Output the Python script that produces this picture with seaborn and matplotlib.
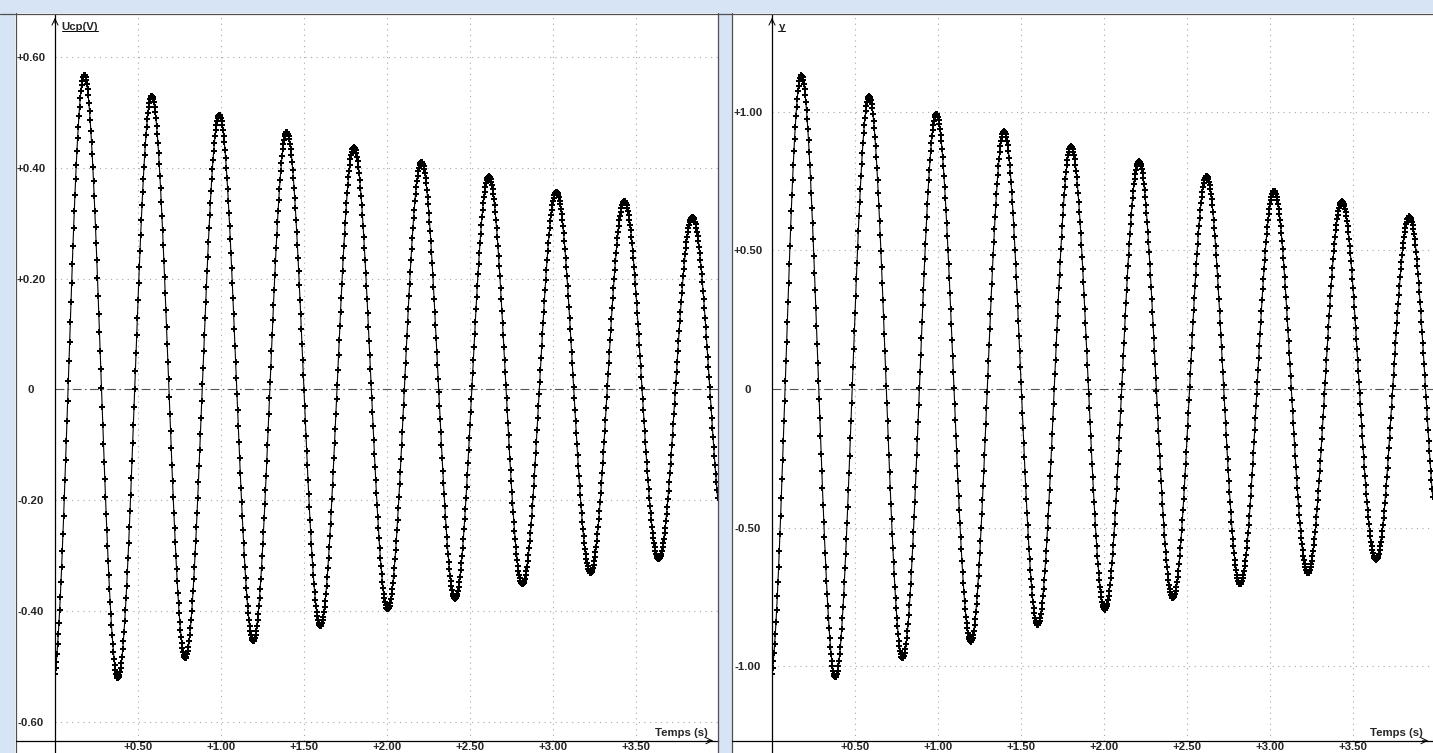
import numpy as np
import pandas as pd
import matplotlib.pyplot as plt
from matplotlib.lines import Line2D
from matplotlib.patches import Rectangle
import seaborn as sns

ucp_t_ext = [-0.015, 0.176, 0.379, 0.582, 0.785, 0.990, 1.194, 1.396, 1.598, 1.801, 2.004,
             2.207, 2.410, 2.613, 2.816, 3.020, 3.225, 3.430, 3.636, 3.840, 4.045]
ucp_v_ext = [-0.530, 0.568, -0.521, 0.530, -0.485, 0.496, -0.454, 0.465, -0.427, 0.438, -0.397,
             0.411, -0.378, 0.385, -0.352, 0.357, -0.331, 0.340, -0.306, 0.312, -0.290]
y_t_ext = [-0.015, 0.176, 0.382, 0.585, 0.787, 0.990, 1.197, 1.398, 1.600, 1.802, 2.005,
           2.210, 2.415, 2.617, 2.820, 3.024, 3.228, 3.433, 3.638, 3.840, 4.030]
y_v_ext = [-1.060, 1.132, -1.041, 1.056, -0.972, 0.991, -0.912, 0.930, -0.852, 0.876, -0.796,
           0.822, -0.754, 0.768, -0.705, 0.714, -0.664, 0.677, -0.618, 0.623, -0.585]

sample_step = 0.004  # acquisition period (s)

time_ticks = [0.5, 1.0, 1.5, 2.0, 2.5, 3.0, 3.5]
time_labels = ['+0.50', '+1.00', '+1.50', '+2.00', '+2.50', '+3.00', '+3.50']
ucp_ticks = [0.6, 0.4, 0.2, 0.0, -0.2, -0.4, -0.6]
ucp_labels = ['+0.60', '+0.40', '+0.20', '0', '-0.20', '-0.40', '-0.60']
y_ticks = [1.0, 0.5, 0.0, -0.5, -1.0]
y_labels = ['+1.00', '+0.50', '0', '-0.50', '-1.00']


def sampled(t_ext, v_ext, t):
    # half cosine between successive extrema, evaluated at the sample instants
    t_ext = np.asarray(t_ext)
    v_ext = np.asarray(v_ext)
    i = np.clip(np.searchsorted(t_ext, t, side='right') - 1, 0, len(t_ext) - 2)
    frac = (t - t_ext[i]) / (t_ext[i + 1] - t_ext[i])
    a, b = v_ext[i], v_ext[i + 1]
    return (a + b) / 2 + (a - b) / 2 * np.cos(np.pi * frac)


t = np.arange(0, 4.0, sample_step)
df = pd.concat([
    pd.DataFrame({'t': t, 'v': sampled(ucp_t_ext, ucp_v_ext, t), 'signal': 'Ucp(V)'}),
    pd.DataFrame({'t': t, 'v': sampled(y_t_ext, y_v_ext, t), 'signal': 'y'}),
])

sns.set_style('white')
plt.rcParams['font.family'] = ['Liberation Sans', 'DejaVu Sans']

W, H = 1433, 753
fig = plt.figure(figsize=(W / 100, H / 100), dpi=100)
fig.patch.set_facecolor('white')


def fx(x):
    return x / W


def fy(y):
    return 1 - y / H


# window chrome
chrome = '#d6e4f5'
for x0, y0, w, h in [(0, 0, W, 13), (0, 0, 15, H), (719, 0, 13, H)]:
    fig.add_artist(Rectangle((fx(x0), fy(y0 + h)), w / W, h / H, transform=fig.transFigure,
                             facecolor=chrome, edgecolor='none', zorder=0))
for x in [16, 718, 732]:
    fig.add_artist(Line2D([fx(x)] * 2, [0, fy(13)], color='#505050', lw=0.9))
fig.add_artist(Line2D([0, 1], [fy(13.5)] * 2, color='#505050', lw=0.9))

axis_bottom = 740.7
panels = [
    dict(name='Ucp(V)', left=55, right=718, frame=16, ylim=(-0.634, 0.676),
         ticks=ucp_ticks, labels=ucp_labels),
    dict(name='y', left=772, right=1433, frame=732, ylim=(-1.269, 1.349),
         ticks=y_ticks, labels=y_labels),
]

fs = 8.2
name_texts = []
for p in panels:
    ax = fig.add_axes([fx(p['left']), fy(axis_bottom), (p['right'] - p['left']) / W,
                       (axis_bottom - 15) / H])
    sub = df[df['signal'] == p['name']]
    xmax = (p['right'] - p['left']) / 166.0
    sub = sub[sub['t'] <= xmax]
    sns.lineplot(data=sub, x='t', y='v', color='black', lw=0.8, marker='P',
                 markersize=3.8, markeredgewidth=0, estimator=None, sort=False, ax=ax)
    ax.set_xlim(0, xmax)
    ax.set_ylim(*p['ylim'])
    ax.set_facecolor('none')

    for tk in time_ticks:
        ax.axvline(tk, color='#a8a8a8', lw=0.8, ls=(0, (1, 4)), zorder=0)
    for tk in p['ticks']:
        if tk != 0:
            ax.axhline(tk, color='#a8a8a8', lw=0.8, ls=(0, (1, 4)), zorder=0)
    ax.axhline(0, color='#555555', lw=0.8, ls=(0, (8, 3, 1.5, 3)), zorder=1)

    ax.set_xticks(time_ticks, time_labels)
    ax.set_yticks(p['ticks'], p['labels'])
    ax.tick_params(axis='both', length=0, labelsize=fs)
    ax.tick_params(axis='x', pad=1.2)
    ax.tick_params(axis='y', pad=17.3)
    for lab in ax.get_yticklabels():
        lab.set_horizontalalignment('center')
        lab.set_fontweight('bold')
    for lab in ax.get_xticklabels():
        lab.set_fontweight('bold')
    ax.set_xlabel('')
    ax.set_ylabel('')

    for s in ['top', 'right']:
        ax.spines[s].set_visible(False)
    for s in ['left', 'bottom']:
        ax.spines[s].set_color('black')
        ax.spines[s].set_linewidth(0.9)

    # axis lines run past the origin, with open arrow heads
    fig.add_artist(Line2D([fx(p['frame']), fx(p['left'])], [fy(axis_bottom)] * 2,
                          color='black', lw=0.9))
    fig.add_artist(Line2D([fx(p['left'])] * 2, [0, fy(axis_bottom)], color='black', lw=0.9))
    ax.annotate('', xy=(0, 1.0), xycoords='axes fraction', xytext=(0, 0.985),
                arrowprops=dict(arrowstyle='->,head_length=0.45,head_width=0.22',
                                lw=0.7, color='black'))
    ax.annotate('', xy=(0.997, 0), xycoords='axes fraction', xytext=(0.98, 0),
                arrowprops=dict(arrowstyle='->,head_length=0.45,head_width=0.22',
                                lw=0.7, color='black'))

    ax.text(0.984, fy(732.7), 'Temps (s)', transform=ax.get_yaxis_transform().__class__(
        ax.transAxes, fig.transFigure), ha='right', va='center', fontsize=fs,
        fontweight='bold')
    name_texts.append(fig.text(fx(p['left'] + 6.5), fy(26.5), p['name'], ha='left',
                               va='center', fontsize=fs, fontweight='bold'))

# underline the signal names
fig.canvas.draw()
inv = fig.transFigure.inverted()
for txt in name_texts:
    bb = txt.get_window_extent()
    (x0, y0), (x1, y1) = inv.transform([[bb.x0, bb.y0], [bb.x1, bb.y1]])
    fig.add_artist(Line2D([x0, x1], [y0 + 0.0005] * 2, color='black', lw=0.7))

fig.savefig('out.png', dpi=100)
